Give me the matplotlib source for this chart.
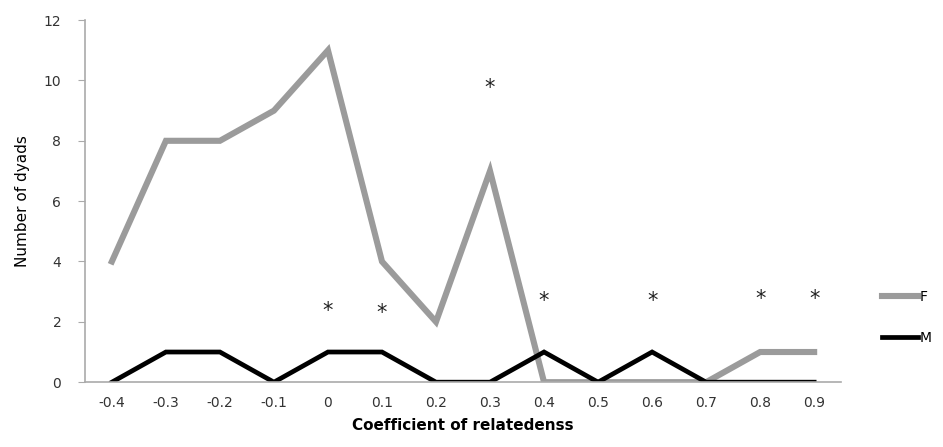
import numpy as np
import matplotlib.pyplot as plt

# coefficient of relatedness categories
coef = ['-0.4', '-0.3', '-0.2', '-0.1', '0', '0.1', '0.2', '0.3', '0.4', '0.5', '0.6', '0.7', '0.8', '0.9']
females = [4, 8, 8, 9, 11, 4, 2, 7, 0, 0, 0, 0, 1, 1]
males = [0, 1, 1, 0, 1, 1, 0, 0, 1, 0, 1, 0, 0, 0]

# significance markers (category, height)
star_cat = ['0', '0.1', '0.3', '0.4', '0.6', '0.8', '0.9']
star_y = [2.35, 2.3, 9.75, 2.7, 2.7, 2.75, 2.75]

fig = plt.figure(figsize=(9.43, 4.47), dpi=100)
ax = fig.add_axes([0.090, 0.145, 0.802, 0.81])

x = np.arange(len(coef))
ax.plot(x, females, color='#9b9b9b', lw=4.4, solid_joinstyle='miter', label='F')
ax.plot(x, males, color='black', lw=3.4, solid_joinstyle='miter', label='M')

for c, y in zip(star_cat, star_y):
    ax.text(coef.index(c), y, '*', ha='center', va='center', fontsize=15, color='#222222')

ax.set_xlim(-0.5, len(coef) - 0.5)
ax.set_ylim(0, 12)
ax.set_yticks(range(0, 13, 2))
ax.set_xticks(x)
ax.set_xticklabels(coef)
ax.tick_params(axis='x', length=0, pad=10, labelsize=10, labelcolor='#333333')
ax.tick_params(axis='y', length=5, color='#aaaaaa', labelsize=10, labelcolor='#333333', pad=12)
for s in ['top', 'right']:
    ax.spines[s].set_visible(False)
ax.spines['left'].set_color('#aaaaaa')
ax.spines['bottom'].set_color('#aaaaaa')
ax.spines['left'].set_linewidth(1.2)
ax.spines['bottom'].set_linewidth(1.2)

ax.set_xlabel('Coefficient of relatedenss', fontsize=11, fontweight='bold', labelpad=6)
ax.set_ylabel('Number of dyads', fontsize=11, labelpad=10)

fig.legend(loc='center left', bbox_to_anchor=(0.922, 0.29), frameon=False,
           handlelength=2.6, handletextpad=0.1, labelspacing=1.9, fontsize=10)

fig.savefig('out.png', dpi=100)
